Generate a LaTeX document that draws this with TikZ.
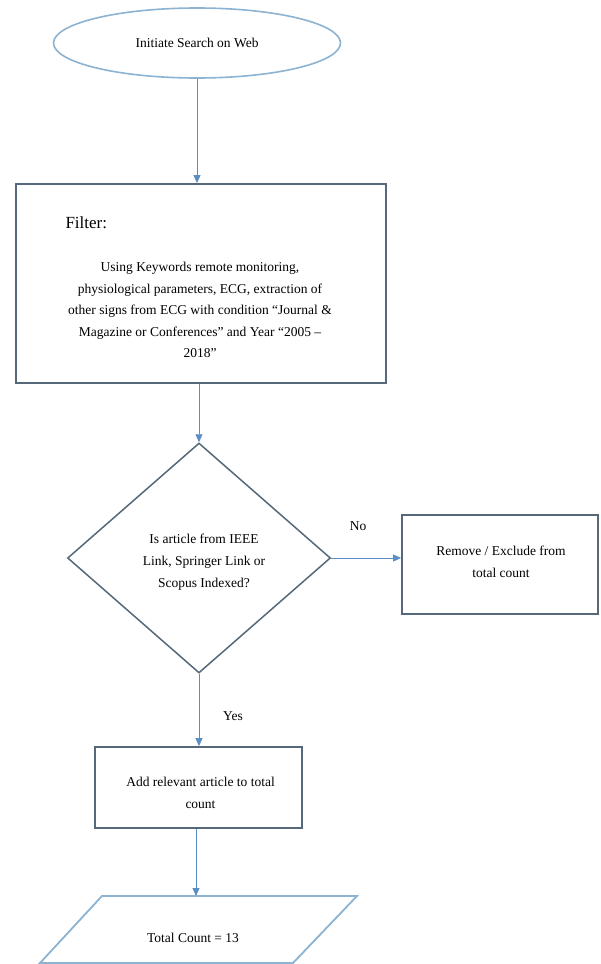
\documentclass[tikz,border=0pt]{standalone}
\usepackage{fontspec}
\setmainfont{Liberation Serif}
\usetikzlibrary{arrows.meta,shapes.geometric}
\definecolor{lightedge}{HTML}{8DB3D2}
\definecolor{darkedge}{HTML}{56697A}
\definecolor{arrowc}{HTML}{5B8EC4}
\begin{document}
\begin{tikzpicture}[x=1pt,y=-1pt,
  txt/.style={font=\fontsize{13.5}{22}\selectfont, align=center, text=black},
  boxnode/.style={draw=darkedge, line width=1.8pt, rectangle, inner sep=0pt, txt},
  arr/.style={draw=arrowc, line width=0.8pt, -{Triangle[width=7pt,length=8pt]}},
  lbl/.style={font=\fontsize{13.5}{16}\selectfont, text=black}
]
\useasboundingbox (0,0) rectangle (600,964);
\fill[white] (0,0) rectangle (600,964);

% start ellipse
\node[ellipse, draw=lightedge, line width=1.6pt, minimum width=287pt, minimum height=70pt, inner sep=0pt, txt] (start) at (197,43) {Initiate Search on Web};

% filter box
\node[boxnode, minimum width=370pt, minimum height=199pt] (filter) at (201,283.5) {};
\node[font=\fontsize{17}{20}\selectfont, anchor=west] (filtertitle) at (62,223) {Filter:};
\node[txt, font=\fontsize{13.5}{21.5}\selectfont] (filterbody) at (200,310) {Using Keywords remote monitoring,\\ physiological parameters, ECG, extraction of\\ other signs from ECG with condition ``Journal \&\\ Magazine or Conferences'' and Year ``2005 --\\ 2018''};

% decision
\node[diamond, draw=darkedge, line width=1.5pt, minimum width=263pt, minimum height=230pt, inner sep=0pt] (dec) at (199,558) {};
\node[txt] (dectext) at (204,562) {Is article from IEEE\\ Link, Springer Link or\\ Scopus Indexed?};

% remove box
\node[boxnode, minimum width=196pt, minimum height=99pt] (remove) at (500,564.5) {};
\node[txt] (removetext) at (501,562) {Remove / Exclude from\\ total count};

% add box
\node[boxnode, minimum width=207pt, minimum height=81pt] (add) at (198.5,787.5) {};
\node[txt] (addtext) at (200.5,793) {Add relevant article to total\\ count};

% parallelogram
\draw[draw=lightedge, line width=1.8pt] (40,963) -- (102,896) -- (357,896) -- (293,963) -- cycle;
\coordinate (totaltop) at (196,896);
\node[txt] (totaltext) at (193,938) {Total Count = 13};

% connectors
\draw[arr] (start.south) -- (start.south |- filter.north);
\draw[arr] (filter.south -| dec.north) -- (dec.north);
\draw[arr] (dec.east) -- (remove.west |- dec.east);
\draw[arr] (dec.south) -- (dec.south |- add.north);
\draw[arr] (add.south -| totaltop) -- (totaltop);

% labels
\node[lbl] (nolabel) at (358,526) {No};
\node[lbl] (yeslabel) at (233,716) {Yes};
\end{tikzpicture}
\end{document}
